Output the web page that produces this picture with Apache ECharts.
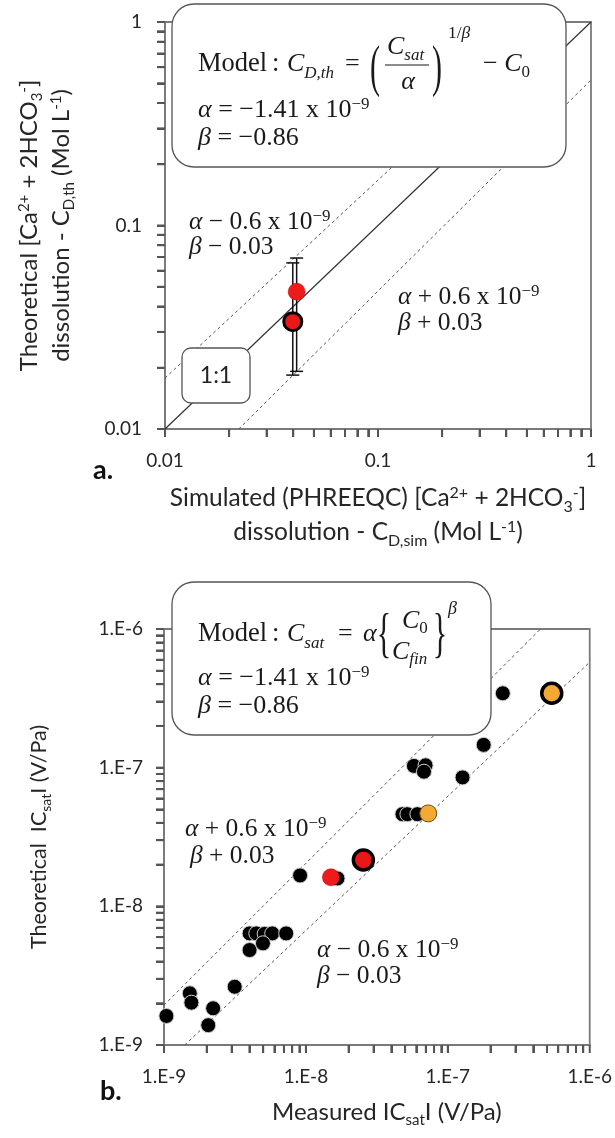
<!DOCTYPE html>
<html><head><meta charset="utf-8">
<script src="https://cdn.jsdelivr.net/npm/echarts@6/dist/echarts.min.js"></script>
<style>html,body{margin:0;padding:0;background:#fff}#c{width:615px;height:1138px}</style>
</head><body><div id="c"></div>
<script>
// ---------------- data ----------------
const tickLabelsA = ['0.01', '0.1', '1'];            // decades 10^-2 .. 10^0
const tickLabelsB = ['1.E-9', '1.E-8', '1.E-7', '1.E-6'];
const oneToOneA = [[0.01, 0.01], [1, 1]];
const upperA = [[0.01, 0.0178], [0.63, 1]];
const lowerA = [[0.0222, 0.01], [1, 0.519]];
const redA = [[0.0415, 0.0473]];
const redRingA = [[0.0398, 0.0337]];
const errA = [[0.0415, 0.0192, 0.0692], [0.0398, 0.0184, 0.0655]];

const upperB = [[1e-9, 1.94e-9], [4.5e-7, 1e-6]];
const lowerB = [[1.40e-9, 1e-9], [1e-6, 5.77e-7]];
const blackB = [
  [2.44e-7, 3.44e-7], [1.79e-7, 1.46e-7], [5.77e-8, 1.03e-7], [6.97e-8, 1.04e-7],
  [6.79e-8, 9.35e-8], [1.27e-7, 8.51e-8], [4.79e-8, 4.62e-8], [5.19e-8, 4.62e-8],
  [6.10e-8, 4.62e-8], [9.10e-9, 1.67e-8], [1.67e-8, 1.59e-8], [4.01e-9, 6.38e-9],
  [4.47e-9, 6.38e-9], [5.12e-9, 6.33e-9], [5.79e-9, 6.38e-9], [7.26e-9, 6.38e-9],
  [4.01e-9, 4.84e-9], [4.98e-9, 5.41e-9], [3.15e-9, 2.63e-9], [1.52e-9, 2.36e-9],
  [1.56e-9, 2.02e-9], [2.22e-9, 1.84e-9], [1.04e-9, 1.62e-9], [2.05e-9, 1.39e-9]
];
const orangeB = [[7.28e-8, 4.68e-8]];
const orangeRingB = [[5.40e-7, 3.44e-7]];
const redB = [[1.50e-8, 1.62e-8]];
const redRingB = [[2.54e-8, 2.16e-8]];

// ---------------- styling helpers ----------------
const SANS = "Lato, 'Open Sans', sans-serif";
const SERIF = "'Liberation Serif', 'DejaVu Serif', serif";
const AX = '#7a7a7a';
const TICK = '#555555';
const TXT = '#262626';
const MATH = '#1a1a1a';
const GRID_A = { left: 165, top: 22, width: 426, height: 407 };
const GRID_B = { left: 164, top: 629, width: 427, height: 416 };

function richSans(fs) {
  const s = Math.round(fs * 0.64);
  return {
    sp: { fontSize: s, lineHeight: s, padding: [Math.round(fs * 0.18), 0, 0, 0], verticalAlign: 'top', fontFamily: SANS, color: TXT },
    sb: { fontSize: s, lineHeight: s, verticalAlign: 'bottom', fontFamily: SANS, color: TXT }
  };
}
function nameStyle(fs, lh, pad) {
  return { fontSize: fs, lineHeight: lh, fontFamily: SANS, color: TXT, rich: richSans(fs), padding: pad || 0 };
}
// log tick positions: each decade plus its 2..9 sub-divisions
function logTickVals(lo, hi) {
  const out = [];
  for (let e = lo; e < hi; e++) for (let k = 1; k <= 9; k++) out.push(k * Math.pow(10, e));
  out.push(Math.pow(10, hi));
  return out;
}
function axisCommon(labels, offsetExp, lo, hi) {
  return {
    type: 'log', logBase: 10,
    axisLine: { lineStyle: { color: AX, width: 1.8 } },
    axisTick: { show: true, length: 8, customValues: logTickVals(lo, hi), lineStyle: { color: TICK, width: 2 } },
    splitLine: { show: false },
    axisLabel: {
      fontSize: 19, fontFamily: SANS, color: TXT, margin: 22,
      formatter: v => labels[Math.round(Math.log10(v)) + offsetExp]
    },
    nameLocation: 'middle'
  };
}
function lineSeries(idx, data, dashed) {
  return {
    type: 'line', xAxisIndex: idx, yAxisIndex: idx, data, symbol: 'none', silent: true, z: 2,
    lineStyle: dashed ? { color: '#555', width: 1, type: [3, 3] } : { color: '#333', width: 1.2 }
  };
}
function scat(idx, data, size, color, bc, bw, z) {
  return {
    type: 'scatter', xAxisIndex: idx, yAxisIndex: idx, data, symbolSize: size, z: z || 5,
    itemStyle: { color, borderColor: bc, borderWidth: bw, opacity: 1 }
  };
}

// graphic text helper
function richMath(fs) {
  const s = Math.round(fs * 0.66);
  return {
    i: { fontSize: fs, fontStyle: 'italic', fontFamily: SERIF, color: MATH },
    sb: { fontSize: s, lineHeight: s, fontStyle: 'italic', verticalAlign: 'bottom', fontFamily: SERIF, color: MATH },
    sbn: { fontSize: s, lineHeight: s, verticalAlign: 'bottom', fontFamily: SERIF, color: MATH },
    sp: { fontSize: s, lineHeight: s, verticalAlign: 'top', fontFamily: SERIF, color: MATH }
  };
}
function T(x, y, text, o) {
  o = o || {};
  const fs = o.fs || 26;
  return {
    type: 'text', x, y, z: 30, scaleX: o.sx || 1, scaleY: o.sy || 1, silent: true,
    style: {
      text, fontSize: fs, fontFamily: o.ff || SERIF, fontStyle: o.it ? 'italic' : 'normal',
      fontWeight: o.fw || 'normal', fill: o.fill || MATH, align: o.al || 'left', verticalAlign: 'middle',
      lineHeight: o.lh || 30, rich: richMath(fs)
    }
  };
}
function box(x, y, w, h, r) {
  return { type: 'rect', z: 20, silent: true, shape: { x, y, width: w, height: h, r },
    style: { fill: '#fff', stroke: '#555', lineWidth: 1.3 } };
}

const graphics = [
  // panel a equation box
  box(172, 4, 394, 163, 22),
  T(198, 64, 'Model', { fs: 26.5 }),
  T(272, 64, ':', { fs: 26.5 }),
  T(287, 64, '{i|C}{sb|D,th}', { lh: 36 }),
  T(345, 64, '='),
  T(375, 70, '(', { fs: 30, sy: 1.9, al: 'center' }),
  T(387, 47, '{i|C}{sb|sat}', { lh: 34 }),
  { type: 'line', z: 30, shape: { x1: 385, y1: 65, x2: 429, y2: 65 }, style: { stroke: MATH, lineWidth: 1.2 } },
  T(408, 82, 'α', { it: true, al: 'center' }),
  T(437, 70, ')', { fs: 30, sy: 1.9, al: 'center' }),
  T(448, 33, '1/{i|β}', { fs: 17.5 }),
  T(483, 64, '− {i|C}{sbn|0}', { lh: 34 }),
  T(198, 110, '{i|α} = −1.41 x 10{sp|−9}', { lh: 28 }),
  T(198, 138, '{i|β} = −0.86'),
  // panel a line labels
  T(189, 222, '{i|α} − 0.6 x 10{sp|−9}', { fs: 25.5, lh: 28 }),
  T(189, 247, '{i|β} − 0.03', { fs: 25.5 }),
  T(398, 297, '{i|α} + 0.6 x 10{sp|−9}', { fs: 25.5, lh: 28 }),
  T(398, 323, '{i|β} + 0.03', { fs: 25.5 }),
  // 1:1 box
  box(182, 348, 68, 55, 9),
  T(216, 376, '1:1', { ff: SANS, fs: 23, al: 'center', fill: '#222' }),
  // panel labels
  T(93, 470, 'a.', { ff: SANS, fs: 27, fw: 'bold', fill: '#111' }),
  T(100, 1091, 'b.', { ff: SANS, fs: 27, fw: 'bold', fill: '#111' }),

  // panel b equation box
  box(172, 582, 319, 153, 22),
  T(198, 634, 'Model', { fs: 26.5 }),
  T(272, 634, ':', { fs: 26.5 }),
  T(287, 634, '{i|C}{sb|sat}', { lh: 36 }),
  T(338, 634, '='),
  T(363, 634, 'α', { it: true }),
  T(384, 637, '{', { fs: 30, sy: 1.8, al: 'center' }),
  T(402, 621, '{i|C}{sbn|0}', { lh: 32 }),
  T(392, 652, '{i|C}{sb|fin}', { lh: 32 }),
  T(440, 637, '}', { fs: 30, sy: 1.8, al: 'center' }),
  T(448, 609, 'β', { it: true, fs: 18 }),
  T(198, 678, '{i|α} = −1.41 x 10{sp|−9}', { lh: 28 }),
  T(198, 706, '{i|β} = −0.86'),
  // panel b line labels
  T(185, 829, '{i|α} + 0.6 x 10{sp|−9}', { fs: 25.5, lh: 28 }),
  T(190, 856, '{i|β} + 0.03', { fs: 25.5 }),
  T(317, 950, '{i|α} − 0.6 x 10{sp|−9}', { fs: 25.5, lh: 28 }),
  T(317, 976, '{i|β} − 0.03', { fs: 25.5 })
];

const chart = echarts.init(document.getElementById('c'), null, { renderer: 'canvas' });
const xA = Object.assign(axisCommon(tickLabelsA, 2, -2, 0), {
  gridIndex: 0, min: 0.01, max: 1, nameGap: 52, nameTextStyle: nameStyle(24.5, 34),
  name: 'Simulated (PHREEQC) [Ca{sp|2+} + 2HCO{sb|3}{sp|-}]\ndissolution - C{sb|D,sim} (Mol L{sp|-1})'
});
const yA = Object.assign(axisCommon(tickLabelsA, 2, -2, 0), {
  gridIndex: 0, min: 0.01, max: 1, nameGap: 88, nameRotate: 90, nameTextStyle: nameStyle(24, 32),
  name: 'Theoretical [Ca{sp|2+} + 2HCO{sb|3}{sp|-}]\ndissolution - C{sb|D,th} (Mol L{sp|-1})'
});
const xB = Object.assign(axisCommon(tickLabelsB, 9, -9, -6), {
  gridIndex: 1, min: 1e-9, max: 1e-6, nameGap: 51, nameTextStyle: nameStyle(24, 32, [0, 0, 0, 20]),
  name: 'Measured IC{sb|sat}I (V/Pa)'
});
const yB = Object.assign(axisCommon(tickLabelsB, 9, -9, -6), {
  gridIndex: 1, min: 1e-9, max: 1e-6, nameGap: 111, nameRotate: 90, nameTextStyle: nameStyle(21.5, 28),
  name: 'Theoretical  IC{sb|sat}I (V/Pa)'
});
yA.axisLabel.margin = 23; yB.axisLabel.margin = 21;

const errSeries = {
  type: 'custom', xAxisIndex: 0, yAxisIndex: 0, z: 3, silent: true,
  data: errA,
  encode: { x: 0, y: [1, 2] },
  renderItem: (p, api) => {
    const lo = api.coord([api.value(0), api.value(1)]);
    const hi = api.coord([api.value(0), api.value(2)]);
    const s = { stroke: '#111', lineWidth: 1.5 };
    return { type: 'group', children: [
      { type: 'line', shape: { x1: lo[0], y1: lo[1], x2: hi[0], y2: hi[1] }, style: s },
      { type: 'line', shape: { x1: lo[0] - 6.5, y1: lo[1], x2: lo[0] + 6.5, y2: lo[1] }, style: s },
      { type: 'line', shape: { x1: hi[0] - 6.5, y1: hi[1], x2: hi[0] + 6.5, y2: hi[1] }, style: s }
    ]};
  }
};

chart.setOption({
  backgroundColor: '#fff',
  animation: false,
  grid: [
    Object.assign({ show: true, borderColor: AX, borderWidth: 1.8, backgroundColor: 'transparent' }, GRID_A),
    Object.assign({ show: true, borderColor: AX, borderWidth: 1.8, backgroundColor: 'transparent' }, GRID_B)
  ],
  xAxis: [xA, xB],
  yAxis: [yA, yB],
  series: [
    lineSeries(0, oneToOneA, false),
    lineSeries(0, upperA, true),
    lineSeries(0, lowerA, true),
    errSeries,
    scat(0, redA, 17, '#ee1b1b', '#b00', 0.5, 6),
    scat(0, redRingA, 18, '#e81818', '#000', 3, 6),

    lineSeries(1, upperB, true),
    lineSeries(1, lowerB, true),
    scat(1, blackB, 15, '#000', '#cfcfcf', 1, 5),
    scat(1, orangeB, 17, '#f4a934', '#6b4a10', 1, 6),
    scat(1, orangeRingB, 20, '#f4a934', '#000', 3.5, 6),
    scat(1, redB, 17, '#ee1b1b', '#b00', 0.5, 6),
    scat(1, redRingB, 20, '#e81818', '#000', 3.5, 6)
  ],
  graphic: graphics
});

// extra log tick marks (decades and 2..9) placed via each axis' own conversion
const tickMarks = [];
[[0, -2, 0, GRID_A], [1, -9, -6, GRID_B]].forEach(([g, lo, hi, R]) => {
  const vals = logTickVals(lo, hi);
  const toX = v => {
    let p; try { p = chart.convertToPixel({ xAxisIndex: g }, v); } catch (e) { p = NaN; }
    return isFinite(p) ? p : R.left + (Math.log10(v) - lo) / (hi - lo) * R.width;
  };
  const toY = v => {
    let p; try { p = chart.convertToPixel({ yAxisIndex: g }, v); } catch (e) { p = NaN; }
    return isFinite(p) ? p : R.top + R.height - (Math.log10(v) - lo) / (hi - lo) * R.height;
  };
  const axisY = R.top + R.height, axisX = R.left;
  vals.forEach(v => {
    const x = toX(v), y = toY(v);
    tickMarks.push({ type: 'line', z: 40, silent: true,
      shape: { x1: x, y1: axisY, x2: x, y2: axisY + 8 }, style: { stroke: TICK, lineWidth: 2 } });
    tickMarks.push({ type: 'line', z: 40, silent: true,
      shape: { x1: axisX - 8, y1: y, x2: axisX, y2: y }, style: { stroke: TICK, lineWidth: 2 } });
  });
});
chart.setOption({ graphic: graphics.concat(tickMarks) });
</script>
</body></html>
